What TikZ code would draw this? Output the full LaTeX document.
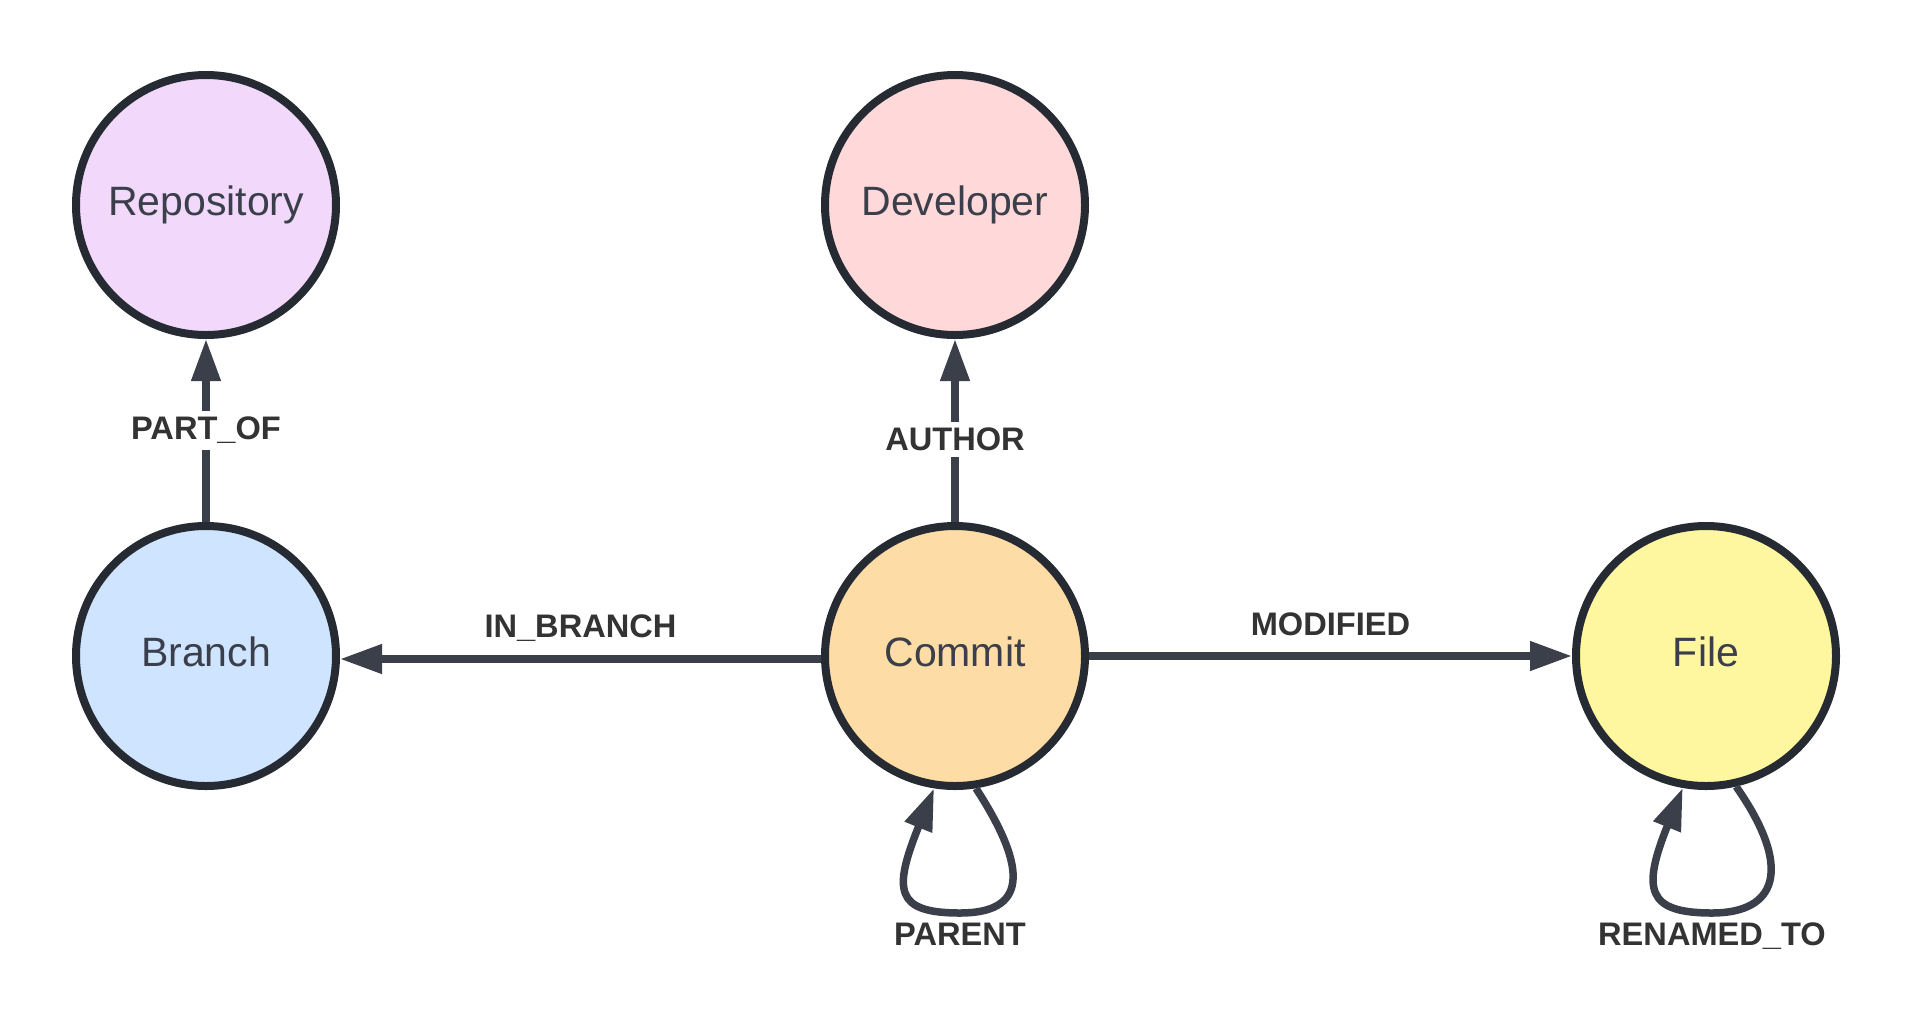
\documentclass[tikz,border=0pt]{standalone}
\usepackage{fontspec}
\setmainfont{Liberation Sans}
\usetikzlibrary{arrows.meta}

\definecolor{ringcol}{HTML}{262B33}
\definecolor{edgecol}{HTML}{3A3F4A}
\definecolor{txtcol}{HTML}{3A3F4B}
\definecolor{lblcol}{HTML}{333333}
\definecolor{repofill}{HTML}{F2D9FC}
\definecolor{devfill}{HTML}{FFD9D9}
\definecolor{branchfill}{HTML}{CFE4FF}
\definecolor{commitfill}{HTML}{FDDCA5}
\definecolor{filefill}{HTML}{FFF6A0}

\tikzset{
  entity/.style={circle,draw=ringcol,line width=4pt,minimum size=130pt,text=txtcol,
    text height=15pt,text depth=4.3pt,font=\fontsize{20.5}{24}\selectfont},
  rel/.style={draw=edgecol,line width=3.75pt,-{Triangle[length=21pt,width=14pt]}},
  rellabel/.style={fill=white,text=lblcol,inner sep=3pt,
    font=\bfseries\fontsize{16.3}{19}\selectfont},
}

\begin{document}
\begin{tikzpicture}[x=0.5pt,y=0.5pt]
	\useasboundingbox (0,0) rectangle (1913,-1035);
	% entities
	\node[entity,fill=repofill] (repo) at (206,-205) {Repository};
	\node[entity,fill=devfill] (dev) at (955,-205) {Developer};
	\node[entity,fill=branchfill] (branch) at (206,-656) {Branch};
	\node[entity,fill=commitfill] (commit) at (955,-656) {Commit};
	\node[entity,fill=filefill] (file) at (1706,-656) {File};
	% relations
	\draw[rel] (branch) -- node[rellabel]{PART\_OF} (repo);
	\draw[rel] (commit) -- node[rellabel,pos=0.45]{AUTHOR} (dev);
	\draw[rel] ([yshift=-1.5pt]commit.west) -- node[rellabel,fill=none,anchor=base,yshift=11pt]{IN\_BRANCH} ([yshift=-1.5pt]branch.east);
	\draw[rel] (commit.east) -- node[rellabel,fill=none,anchor=base,yshift=10.5pt]{MODIFIED} (file.west);
	% self loops
	\draw[rel] (commit.-81) .. controls +(-57:100) and +(0:65) .. ([xshift=2.5pt,yshift=-61.5pt]commit.south) node[rellabel,fill=none,below]{PARENT}
		.. controls +(180:65) and +(-112:110) .. (commit.-99);
	\draw[rel] (file.-77) .. controls +(-55:100) and +(0:65) .. ([xshift=3pt,yshift=-61.5pt]file.south) node[rellabel,fill=none,below]{RENAMED\_TO}
		.. controls +(180:65) and +(-112:110) .. (file.-100);
\end{tikzpicture}
\end{document}
